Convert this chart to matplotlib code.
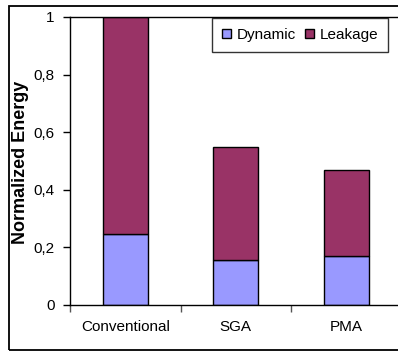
import matplotlib
matplotlib.use("Agg")
import matplotlib.pyplot as plt
from matplotlib.patches import Rectangle

plt.rcParams['font.family'] = ['Liberation Sans', 'DejaVu Sans']

categories = ["Conventional", "SGA", "PMA"]
dynamic = [0.245, 0.155, 0.17]
leakage = [0.755, 0.395, 0.30]
yticks = [0, 0.2, 0.4, 0.6, 0.8, 1.0]
ytick_labels = ["0", "0,2", "0,4", "0,6", "0,8", "1"]

W, H = 398, 354
fig = plt.figure(figsize=(W / 100, H / 100), dpi=100)
ax = fig.add_axes([70 / W, 1 - 305 / H, 331.5 / W, 288 / H])

x = list(range(len(categories)))
ax.bar(x, dynamic, width=0.41, color="#9999FF", edgecolor="black", linewidth=1, label="Dynamic")
ax.bar(x, leakage, width=0.41, bottom=dynamic, color="#993366", edgecolor="black", linewidth=1, label="Leakage")

ax.set_xlim(-0.5, 2.5)
ax.set_ylim(0, 1)
ax.set_yticks(yticks)
ax.set_yticklabels(ytick_labels)
ax.tick_params(axis="y", direction="out", length=5, width=1, pad=6, labelsize=11)

# category boundaries get the tick marks, labels sit in between
ax.set_xticks([-0.5, 0.5, 1.5, 2.5])
ax.set_xticklabels([])
ax.tick_params(axis="x", which="major", direction="out", length=5, width=1, color="#555555")
ax.set_xticks(x, minor=True)
ax.set_xticklabels(categories, minor=True)
ax.tick_params(axis="x", which="minor", length=0, pad=11, labelsize=11)

for s in ax.spines.values():
    s.set_linewidth(1)
    s.set_color("black")

fig.text(21 / W, 1 - 162 / H, "Normalized Energy", rotation=90, ha="center", va="center",
         fontsize=13, fontweight="bold")

leg = fig.legend(loc="upper right", bbox_to_anchor=(388 / W, 1 - 18 / H), bbox_transform=fig.transFigure,
                 ncol=2, fontsize=11, frameon=True, fancybox=False, shadow=False,
                 borderaxespad=0, handlelength=0.6, handleheight=0.6, handletextpad=0.35,
                 columnspacing=0.6, borderpad=0.65)
leg.get_frame().set_edgecolor("black")
leg.get_frame().set_linewidth(1)

# outer chart border (right side runs off the picture)
fig.patches.append(Rectangle((9 / W, 4 / H), 1.2, 1 - 5.5 / H - 4 / H, transform=fig.transFigure,
                             fill=False, edgecolor="black", linewidth=1.3))

fig.savefig("out.png", dpi=100)
